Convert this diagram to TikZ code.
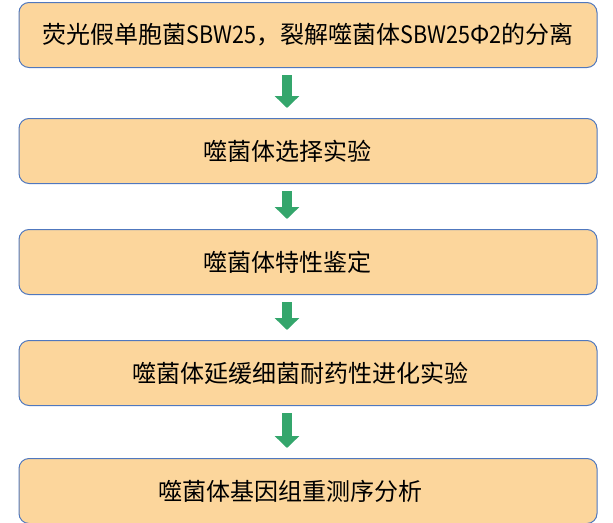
\documentclass[tikz,border=0pt]{standalone}
\usepackage{fontspec}
\newfontfamily\cjk{Noto Sans CJK SC}
\newfontfamily\cjknarrow[FakeStretch=0.9]{Noto Sans CJK SC}
\usetikzlibrary{positioning,arrows.meta}

\begin{document}
\begin{tikzpicture}[x=1pt,y=1pt,
    stagebox/.style={draw=myedge, line width=1pt, fill=myfill, rounded corners=10pt,
        minimum width=578pt, minimum height=65pt, inner sep=0pt,
        font=\cjk\fontsize{24}{28}\selectfont},
    pushleft/.style={execute at end node={\hspace*{#1}}},
    greenarrow/.style={draw=mygreen, line width=10pt,
        -{Triangle[width=24pt,length=12pt]}}]
    \definecolor{myfill}{RGB}{252,214,156}
    \definecolor{myedge}{RGB}{80,120,190}
    \definecolor{mygreen}{RGB}{52,166,108}

    \useasboundingbox (0,0) rectangle (613,-522);

    \node[stagebox] (isolate) at (308,-35)
        {荧光假单胞菌{\cjknarrow SBW25}，裂解噬菌体{\cjknarrow SBW25}Φ{\cjknarrow 2}的分离};
    \node[stagebox, pushleft=42pt, below=50pt of isolate] (select) {噬菌体选择实验};
    \node[stagebox, pushleft=42pt, below=45pt of select] (traits) {噬菌体特性鉴定};
    \node[stagebox, pushleft=16pt, below=45pt of traits] (evolve) {噬菌体延缓细菌耐药性进化实验};
    \node[stagebox, pushleft=36pt, below=52pt of evolve] (genome) {噬菌体基因组重测序分析};

    \foreach \a/\b in {isolate/select, select/traits, traits/evolve, evolve/genome}
        \draw[greenarrow] ([xshift=-21pt,yshift=-7pt]\a.south) -- ([xshift=-21pt,yshift=10pt]\b.north);
\end{tikzpicture}
\end{document}
